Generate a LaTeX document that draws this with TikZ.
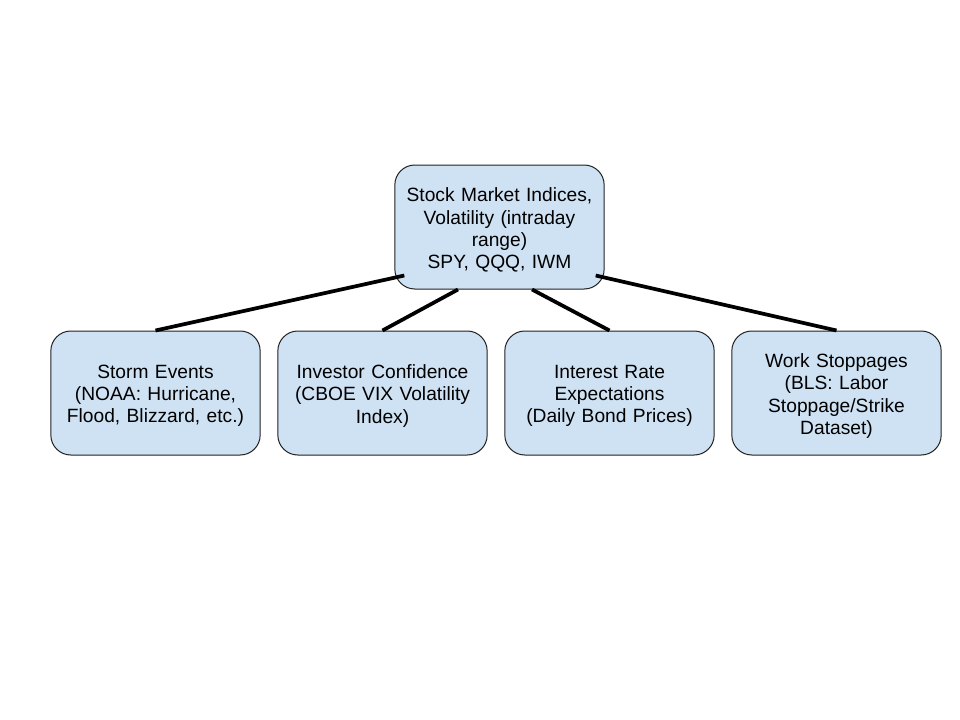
\documentclass[tikz,border=0pt]{standalone}
\usepackage{fontspec}
\setmainfont{Liberation Sans}
\usetikzlibrary{calc}
\definecolor{boxfill}{HTML}{CFE2F3}
\definecolor{boxline}{HTML}{222222}
\begin{document}
\begin{tikzpicture}[x=0.75bp,y=-0.75bp,
  cbox/.style={draw=boxline,line width=0.75bp,fill=boxfill,rounded corners=15bp,
    minimum width=157bp,minimum height=93bp,inner sep=0pt},
  ctext/.style={align=center,inner sep=0pt,text width=155bp,
    font=\fontsize{14.4bp}{16.6bp}\selectfont},
  link/.style={line width=2.8bp,black}]
\useasboundingbox[fill=white] (0,0) rectangle (960,720);
\node[cbox] (top) at (499.5,227) {};
\node[ctext] (toptext) at ($(top.center)+(0,3)$) {Stock Market Indices,\\Volatility (intraday\\range)\\SPY, QQQ, IWM};
\node[cbox] (s1) at (155.5,393) {};
\node[ctext] (s1text) at ($(s1.center)+(0,3)$) {Storm Events\\(NOAA: Hurricane,\\Flood, Blizzard, etc.)};
\node[cbox] (s2) at (382.5,393) {};
\node[ctext] (s2text) at ($(s2.center)+(0,3)$) {Investor Confidence\\(CBOE VIX Volatility\\Index)};
\node[cbox] (s3) at (609.5,393) {};
\node[ctext] (s3text) at ($(s3.center)+(0,3)$) {Interest Rate\\Expectations\\(Daily Bond Prices)};
\node[cbox] (s4) at (836.5,393) {};
\node[ctext] (s4text) at ($(s4.center)+(0,3)$) {Work Stoppages\\(BLS: Labor\\Stoppage/Strike\\Dataset)};
\coordinate (t1) at ($(top.south west)+(10,-14)$);
\coordinate (t2) at ($(top.south)+(-41.5,0)$);
\coordinate (t3) at ($(top.south)+(32.5,0)$);
\coordinate (t4) at ($(top.south east)+(-9,-14)$);
\draw[link] (s1.north) -- (t1);
\draw[link] (s2.north) -- (t2);
\draw[link] (s3.north) -- (t3);
\draw[link] (s4.north) -- (t4);
\end{tikzpicture}
\end{document}
